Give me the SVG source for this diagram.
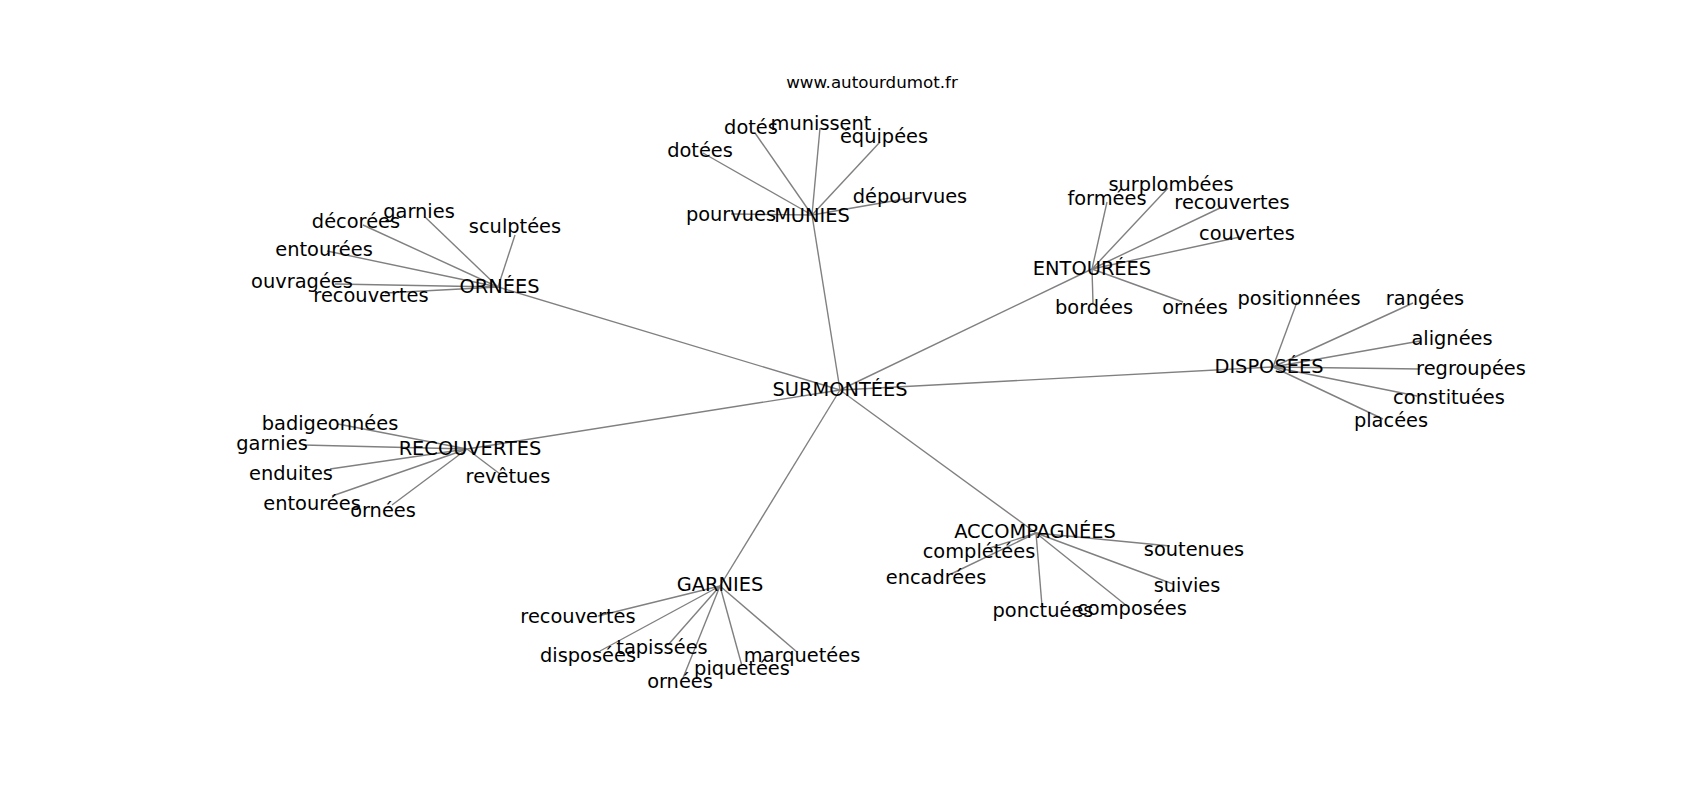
<svg xmlns="http://www.w3.org/2000/svg" width="1700" height="800" viewBox="0 0 1700 800">
<style>
.e{stroke:#808080;stroke-width:1.4;fill:none}
.t{font-family:"DejaVu Sans","Liberation Sans",sans-serif;font-size:19.4px;text-anchor:middle;fill:#000}
.title{font-family:"DejaVu Sans","Liberation Sans",sans-serif;font-size:16.7px;text-anchor:middle;fill:#000}
</style>
<rect width="1700" height="800" fill="#fff"/>
<text class="title" x="872" y="88">www.autourdumot.fr</text>
<g id="edges">
<line class="e" x1="840" y1="390" x2="812" y2="215"/>
<line class="e" x1="840" y1="390" x2="498" y2="287"/>
<line class="e" x1="840" y1="390" x2="1092" y2="269"/>
<line class="e" x1="840" y1="390" x2="1273" y2="367"/>
<line class="e" x1="840" y1="390" x2="467" y2="449"/>
<line class="e" x1="840" y1="390" x2="720" y2="586"/>
<line class="e" x1="840" y1="390" x2="1036" y2="533"/>
<line class="e" x1="812" y1="215" x2="703" y2="153"/>
<line class="e" x1="812" y1="215" x2="755" y2="133"/>
<line class="e" x1="812" y1="215" x2="820" y2="128"/>
<line class="e" x1="812" y1="215" x2="880" y2="142"/>
<line class="e" x1="812" y1="215" x2="910" y2="198"/>
<line class="e" x1="812" y1="215" x2="731" y2="214"/>
<line class="e" x1="498" y1="287" x2="363" y2="225"/>
<line class="e" x1="498" y1="287" x2="425" y2="217"/>
<line class="e" x1="498" y1="287" x2="515" y2="235"/>
<line class="e" x1="498" y1="287" x2="327" y2="251"/>
<line class="e" x1="498" y1="287" x2="335" y2="284"/>
<line class="e" x1="498" y1="287" x2="385" y2="293"/>
<line class="e" x1="1092" y1="269" x2="1107" y2="202"/>
<line class="e" x1="1092" y1="269" x2="1168" y2="188"/>
<line class="e" x1="1092" y1="269" x2="1220" y2="208"/>
<line class="e" x1="1092" y1="269" x2="1240" y2="237"/>
<line class="e" x1="1092" y1="269" x2="1093" y2="303"/>
<line class="e" x1="1092" y1="269" x2="1183" y2="302"/>
<line class="e" x1="1273" y1="367" x2="1297" y2="302"/>
<line class="e" x1="1273" y1="367" x2="1413" y2="303"/>
<line class="e" x1="1273" y1="367" x2="1420" y2="341"/>
<line class="e" x1="1273" y1="367" x2="1420" y2="369"/>
<line class="e" x1="1273" y1="367" x2="1417" y2="396"/>
<line class="e" x1="1273" y1="367" x2="1383" y2="419"/>
<line class="e" x1="467" y1="449" x2="338" y2="424"/>
<line class="e" x1="467" y1="449" x2="303" y2="445"/>
<line class="e" x1="467" y1="449" x2="330" y2="469"/>
<line class="e" x1="467" y1="449" x2="332" y2="496"/>
<line class="e" x1="467" y1="449" x2="392" y2="505"/>
<line class="e" x1="467" y1="449" x2="500" y2="474"/>
<line class="e" x1="720" y1="586" x2="598" y2="616"/>
<line class="e" x1="720" y1="586" x2="600" y2="651"/>
<line class="e" x1="720" y1="586" x2="668" y2="645"/>
<line class="e" x1="720" y1="586" x2="683" y2="678"/>
<line class="e" x1="720" y1="586" x2="742" y2="666"/>
<line class="e" x1="720" y1="586" x2="797" y2="652"/>
<line class="e" x1="1036" y1="533" x2="990" y2="548"/>
<line class="e" x1="1036" y1="533" x2="951" y2="574"/>
<line class="e" x1="1036" y1="533" x2="1042" y2="606"/>
<line class="e" x1="1036" y1="533" x2="1127" y2="606"/>
<line class="e" x1="1036" y1="533" x2="1173" y2="584"/>
<line class="e" x1="1036" y1="533" x2="1170" y2="546"/>
</g>
<g id="n-surmontees"><text class="t" x="840" y="396">SURMONTÉES</text></g>
<g id="n-munies"><text class="t" x="812" y="221.5">MUNIES</text></g>
<g id="n-ornees"><text class="t" x="499.5" y="293">ORNÉES</text></g>
<g id="n-entourees"><text class="t" x="1092" y="275">ENTOURÉES</text></g>
<g id="n-disposees"><text class="t" x="1269" y="373">DISPOSÉES</text></g>
<g id="n-recouvertes"><text class="t" x="470" y="455">RECOUVERTES</text></g>
<g id="n-garnies"><text class="t" x="720" y="591">GARNIES</text></g>
<g id="n-accompagnees"><text class="t" x="1035" y="538">ACCOMPAGNÉES</text></g>
<g id="n-munies-dotees"><text class="t" x="700" y="157">dotées</text></g>
<g id="n-munies-dotes"><text class="t" x="751" y="134">dotés</text></g>
<g id="n-munies-munissent"><text class="t" x="821" y="130">munissent</text></g>
<g id="n-munies-equipees"><text class="t" x="884" y="143">équipées</text></g>
<g id="n-munies-depourvues"><text class="t" x="910" y="203">dépourvues</text></g>
<g id="n-munies-pourvues"><text class="t" x="731" y="221">pourvues</text></g>
<g id="n-ornees-decorees"><text class="t" x="356" y="228">décorées</text></g>
<g id="n-ornees-garnies"><text class="t" x="419" y="218">garnies</text></g>
<g id="n-ornees-sculptees"><text class="t" x="515" y="233">sculptées</text></g>
<g id="n-ornees-entourees"><text class="t" x="324" y="256">entourées</text></g>
<g id="n-ornees-ouvragees"><text class="t" x="302" y="288">ouvragées</text></g>
<g id="n-ornees-recouvertes"><text class="t" x="371" y="302">recouvertes</text></g>
<g id="n-ent-formees"><text class="t" x="1107" y="205">formées</text></g>
<g id="n-ent-surplombees"><text class="t" x="1171" y="191">surplombées</text></g>
<g id="n-ent-recouvertes"><text class="t" x="1232" y="209">recouvertes</text></g>
<g id="n-ent-couvertes"><text class="t" x="1247" y="240">couvertes</text></g>
<g id="n-ent-bordees"><text class="t" x="1094" y="314">bordées</text></g>
<g id="n-ent-ornees"><text class="t" x="1195" y="314">ornées</text></g>
<g id="n-dis-positionnees"><text class="t" x="1299" y="305">positionnées</text></g>
<g id="n-dis-rangees"><text class="t" x="1425" y="305">rangées</text></g>
<g id="n-dis-alignees"><text class="t" x="1452" y="345">alignées</text></g>
<g id="n-dis-regroupees"><text class="t" x="1471" y="375">regroupées</text></g>
<g id="n-dis-constituees"><text class="t" x="1449" y="404">constituées</text></g>
<g id="n-dis-placees"><text class="t" x="1391" y="427">placées</text></g>
<g id="n-rec-badigeonnees"><text class="t" x="330" y="430">badigeonnées</text></g>
<g id="n-rec-garnies"><text class="t" x="272" y="450">garnies</text></g>
<g id="n-rec-enduites"><text class="t" x="291" y="480">enduites</text></g>
<g id="n-rec-entourees"><text class="t" x="312" y="510">entourées</text></g>
<g id="n-rec-ornees"><text class="t" x="383" y="517">ornées</text></g>
<g id="n-rec-revetues"><text class="t" x="508" y="483">revêtues</text></g>
<g id="n-gar-recouvertes"><text class="t" x="578" y="623">recouvertes</text></g>
<g id="n-gar-disposees"><text class="t" x="588" y="662">disposées</text></g>
<g id="n-gar-tapissees"><text class="t" x="662" y="654">tapissées</text></g>
<g id="n-gar-ornees"><text class="t" x="680" y="688">ornées</text></g>
<g id="n-gar-piquetees"><text class="t" x="742" y="675">piquetées</text></g>
<g id="n-gar-marquetees"><text class="t" x="802" y="662">marquetées</text></g>
<g id="n-acc-completees"><text class="t" x="979" y="558">complétées</text></g>
<g id="n-acc-encadrees"><text class="t" x="936" y="584">encadrées</text></g>
<g id="n-acc-ponctuees"><text class="t" x="1043" y="617">ponctuées</text></g>
<g id="n-acc-composees"><text class="t" x="1132" y="615">composées</text></g>
<g id="n-acc-suivies"><text class="t" x="1187" y="592">suivies</text></g>
<g id="n-acc-soutenues"><text class="t" x="1194" y="556">soutenues</text></g>
</svg>
